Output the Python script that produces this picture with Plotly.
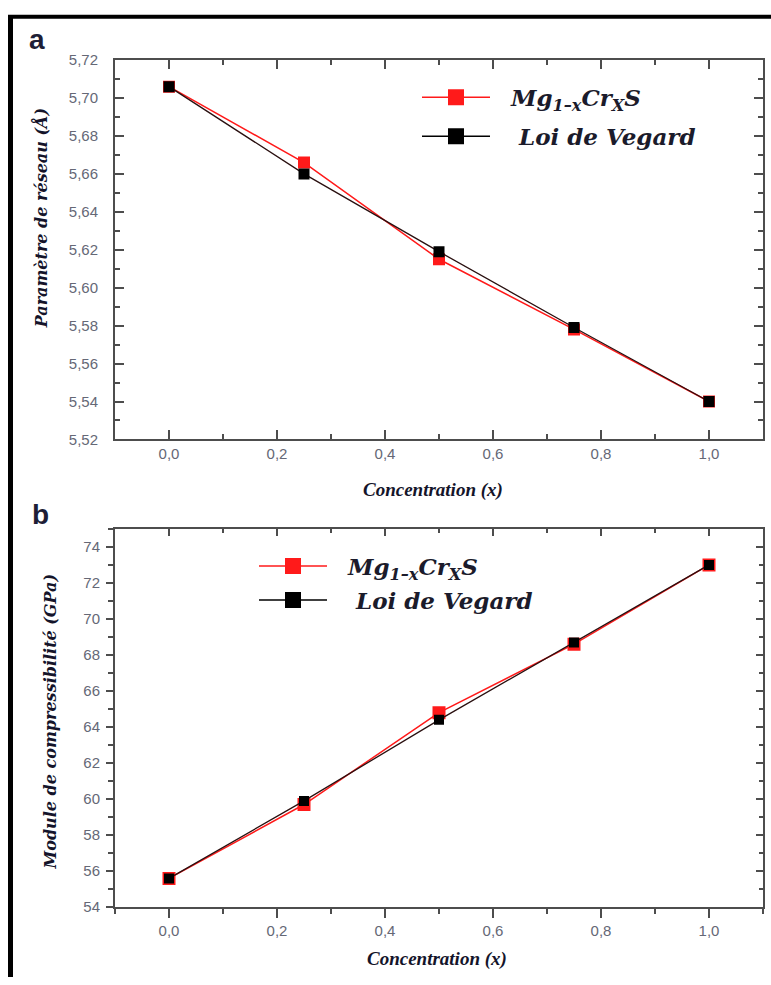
import plotly.graph_objects as go

# ---------------- data ----------------
x_conc = [0.0, 0.25, 0.5, 0.75, 1.0]
a_alloy = [5.706, 5.666, 5.615, 5.578, 5.540]
a_vegard = [5.706, 5.660, 5.619, 5.579, 5.540]
b_alloy = [55.6, 59.7, 64.8, 68.6, 73.0]
b_vegard = [55.6, 59.9, 64.4, 68.7, 73.0]
x_tick_vals = [0.0, 0.2, 0.4, 0.6, 0.8, 1.0]
series_names = ["&nbsp;&nbsp;Mg<sub>1–x</sub>Cr<sub>X</sub>S",
                "&nbsp;&nbsp;&nbsp;Loi de Vegard"]
y_titles = ["Paramètre de réseau (Å)", "Module de compressibilité (GPa)"]
x_title = "Concentration (x)"
panel_labels = ["a", "b"]

W, H = 771, 985
RED = "#ff1a1a"
BLK = "#000000"
AX = "#4d4d4d"
TICKFONT = dict(family="Liberation Sans", size=15, color="#656876")


def px(x):
    return x / W


def py(y):
    return 1 - y / H


xdom = [px(115), px(763)]
ydom_a = [py(438), py(52)]
ydom_b = [py(914), py(529)]

fig = go.Figure()

# panel a data
fig.add_trace(go.Scatter(x=x_conc, y=a_alloy, mode="lines+markers",
                         line=dict(color=RED, width=1.5),
                         marker=dict(symbol="square", size=12, color=RED),
                         showlegend=False, xaxis="x", yaxis="y"))
fig.add_trace(go.Scatter(x=x_conc, y=a_vegard, mode="lines+markers",
                         line=dict(color="#2a1010", width=1.3),
                         marker=dict(symbol="square", size=11, color=BLK),
                         showlegend=False, xaxis="x", yaxis="y"))
# panel b data
fig.add_trace(go.Scatter(x=x_conc, y=b_alloy, mode="lines+markers",
                         line=dict(color=RED, width=1.5),
                         marker=dict(symbol="square", size=13, color=RED),
                         showlegend=False, xaxis="x2", yaxis="y2"))
fig.add_trace(go.Scatter(x=x_conc, y=b_vegard, mode="lines+markers",
                         line=dict(color="#2a1010", width=1.3),
                         marker=dict(symbol="square", size=10, color=BLK),
                         showlegend=False, xaxis="x2", yaxis="y2"))

# legend-only entries
for leg, ax, ay in (("legend", "x", "y"), ("legend2", "x2", "y2")):
    for name, col, grp in ((series_names[0], RED, "g1"), (series_names[1], BLK, "g2")):
        fig.add_trace(go.Scatter(x=[None], y=[None], mode="lines+markers",
                                 name="<b><i>" + name + "</i></b>",
                                 line=dict(color=col, width=1.5),
                                 marker=dict(symbol="square", size=16, color=col),
                                 legend=leg, legendgroup=grp + leg,
                                 xaxis=ax, yaxis=ay))

# dummy trace for inside-ticks mirrored axes of panel b
fig.add_trace(go.Scatter(x=[None], y=[None], showlegend=False, hoverinfo="skip",
                         xaxis="x3", yaxis="y3"))

common_x = dict(range=[-0.1, 1.1], tickvals=x_tick_vals, tickformat=".1f",
                showline=True, linecolor=AX, linewidth=2, showgrid=False,
                zeroline=False, tickcolor=AX, tickwidth=1.5, ticklen=9,
                tickfont=TICKFONT, domain=xdom)

LEGFONT = dict(family="DejaVu Serif", size=23, color="#1b1b2b")

fig.update_layout(
    width=W, height=H,
    margin=dict(l=0, r=0, t=0, b=0),
    paper_bgcolor="white", plot_bgcolor="white",
    separators=", ",
    xaxis=dict(**common_x, anchor="y", mirror="ticks", ticks="inside",
               minor=dict(dtick=0.1, tick0=0, ticks="inside", ticklen=5,
                          tickcolor=AX, tickwidth=1.5, showgrid=False)),
    yaxis=dict(range=[5.52, 5.72], dtick=0.02, tick0=5.52, tickformat=".2f",
               domain=ydom_a, anchor="x", showline=True, linecolor=AX,
               linewidth=2, mirror="ticks", ticks="inside", ticklen=9,
               tickcolor=AX, tickwidth=1.5, showgrid=False, zeroline=False,
               tickfont=TICKFONT, ticklabelstandoff=12,
               minor=dict(dtick=0.01, tick0=5.52, ticks="inside", ticklen=5,
                          tickcolor=AX, tickwidth=1.5, showgrid=False)),
    xaxis2=dict(**common_x, anchor="y2", mirror=False, ticks="outside",
                minor=dict(dtick=0.1, tick0=0, ticks="outside", ticklen=5,
                           tickcolor=AX, tickwidth=1.5, showgrid=False)),
    yaxis2=dict(range=[54, 75], dtick=2, tick0=54, domain=ydom_b, anchor="x2",
                showline=True, linecolor=AX, linewidth=2, mirror=False,
                ticks="outside", ticklen=7, tickcolor=AX, tickwidth=1.5,
                showgrid=False, zeroline=False, tickfont=TICKFONT,
                ticklabelstandoff=3,
                minor=dict(dtick=1, tick0=54, ticks="outside", ticklen=5,
                           tickcolor=AX, tickwidth=1.5, showgrid=False)),
    xaxis3=dict(range=[-0.1, 1.1], tickvals=x_tick_vals, overlaying="x2",
                side="top", anchor="y2", showline=True, linecolor=AX,
                linewidth=2, ticks="inside", ticklen=7, tickcolor=AX,
                tickwidth=1.5, showticklabels=False, showgrid=False,
                zeroline=False,
                minor=dict(dtick=0.1, tick0=0, ticks="inside", ticklen=4,
                           tickcolor=AX, tickwidth=1.5, showgrid=False)),
    yaxis3=dict(range=[54, 75], dtick=2, tick0=54, overlaying="y2",
                side="right", anchor="x2", showline=True, linecolor=AX,
                linewidth=2, ticks="inside", ticklen=7, tickcolor=AX,
                tickwidth=1.5, showticklabels=False, showgrid=False,
                zeroline=False,
                minor=dict(dtick=1, tick0=54, ticks="inside", ticklen=4,
                           tickcolor=AX, tickwidth=1.5, showgrid=False)),
    legend=dict(x=px(417), y=py(68), xanchor="left", yanchor="top",
                bgcolor="rgba(0,0,0,0)", itemwidth=68, tracegroupgap=6,
                traceorder="grouped", font=LEGFONT),
    legend2=dict(x=px(254), y=py(545), xanchor="left", yanchor="top",
                 bgcolor="rgba(0,0,0,0)", itemwidth=68, tracegroupgap=1,
                 traceorder="grouped", font=LEGFONT),
)

title_font = dict(family="DejaVu Serif", size=16, color="#14142a")
xtitle_font = dict(family="Liberation Serif", size=19, color="#14142a")
annotations = [
    dict(text="<b><i>" + y_titles[0] + "</i></b>", x=px(40), y=py(213),
         textangle=-90, font=title_font),
    dict(text="<b><i>" + y_titles[1] + "</i></b>", x=px(50), y=py(725),
         textangle=-90, font=title_font),
    dict(text="<b><i>" + x_title + "</i></b>", x=px(433), y=py(489),
         font=xtitle_font),
    dict(text="<b><i>" + x_title + "</i></b>", x=px(437), y=py(967),
         font=xtitle_font),
    dict(text="<b>" + panel_labels[0] + "</b>", x=px(37), y=py(31),
         font=dict(family="Liberation Sans", size=28, color="#1e1e36")),
    dict(text="<b>" + panel_labels[1] + "</b>", x=px(40), y=py(514),
         font=dict(family="Liberation Sans", size=28, color="#1e1e36")),
]
for a in annotations:
    a.update(xref="paper", yref="paper", showarrow=False,
             xanchor="center", yanchor="middle")
fig.update_layout(annotations=annotations)

# outer frame (left and top)
fig.add_shape(type="line", xref="paper", yref="paper", x0=px(10.5), x1=px(10.5),
              y0=py(6), y1=0, line=dict(color="black", width=5))
fig.add_shape(type="line", xref="paper", yref="paper", x0=px(8), x1=1,
              y0=py(8), y1=py(8), line=dict(color="black", width=4))

fig.write_html("out.html")
